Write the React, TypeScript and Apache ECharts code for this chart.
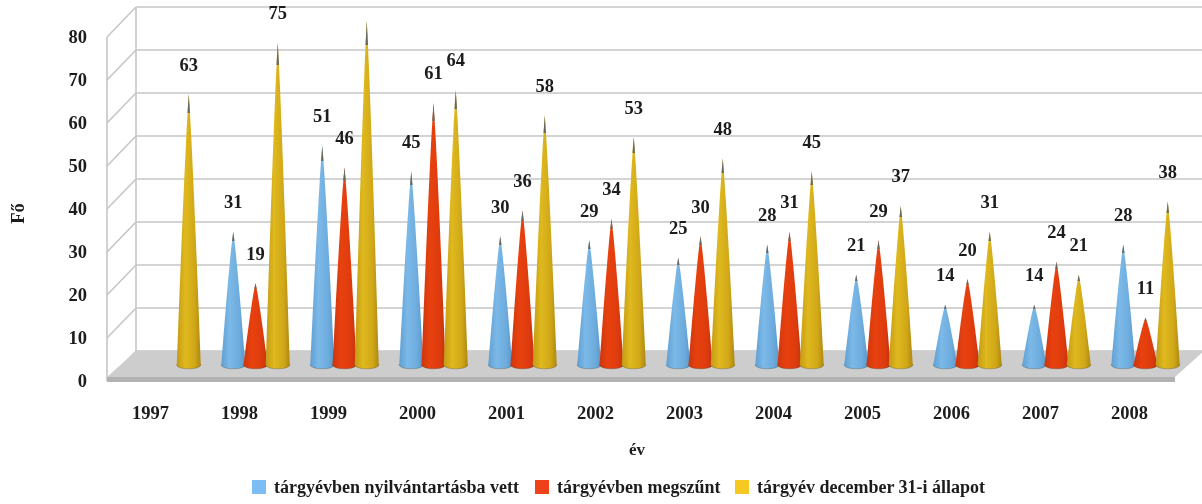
import React, { useEffect, useRef } from "react";
import * as echarts from "echarts";

const years = ["1997","1998","1999","2000","2001","2002","2003","2004","2005","2006","2007","2008"];
const newlyRegistered = [null,31,51,45,30,29,25,28,21,14,14,28];
const ceased = [null,19,46,61,36,34,30,31,29,20,24,11];
const yearEnd = [63,75,80,64,58,53,48,45,37,31,21,38];
const yTicks = [0,10,20,30,40,50,60,70,80];
const seriesNames = ["tárgyévben nyilvántartásba vett","tárgyévben megszűnt","tárgyév december 31-i állapot"];

const FONT = '"Liberation Serif", serif';
const DEPTH_X = 29, DEPTH_Y = 30, MID_Y = 16, MID_X = 15;
const GRID = "#c6c6c6";

const palettes = [
  { legend: "#7cbdf4", stops: ["#5f9fd2","#7cb9e8","#6cabdd","#5a97c9"] },
  { legend: "#f0421a", stops: ["#cc360f","#e8410f","#de3c0e","#c4330c"] },
  { legend: "#f5c922", stops: ["#c49a14","#dfb91e","#d0a718","#ae8810"] },
];

function frame(params: any, api: any) {
  const [x0, y0] = api.coord([0, 0]);
  const band = api.size([1, 0])[0];
  const left = x0 - band / 2;
  const right = left + band * years.length;
  const children: any[] = [];
  const line = (a: number, b: number, c: number, d: number) => ({
    type: "line", shape: { x1: a, y1: b, x2: c, y2: d }, style: { stroke: GRID, lineWidth: 1.6, fill: "none" },
  });
  const top = api.coord([0, yTicks[yTicks.length - 1]])[1];
  children.push(line(left, top, left, y0));
  children.push(line(left + DEPTH_X, top - DEPTH_Y, left + DEPTH_X, y0 - DEPTH_Y));
  for (const t of yTicks) {
    const y = api.coord([0, t])[1];
    children.push(line(left, y, left + DEPTH_X, y - DEPTH_Y));
    children.push(line(left + DEPTH_X, y - DEPTH_Y, right + DEPTH_X, y - DEPTH_Y));
  }
  children.push({
    type: "polygon",
    shape: { points: [[left, y0 - 4], [left + DEPTH_X, y0 - DEPTH_Y], [right + DEPTH_X, y0 - DEPTH_Y], [right, y0 - 4]] },
    style: { fill: "#cdcdcd" },
  });
  children.push({
    type: "polygon",
    shape: { points: [[left, y0 - 4], [right, y0 - 4], [right, y0 + 1], [left, y0 + 1]] },
    style: { fill: "#b2b2b2" },
  });
  return { type: "group", children };
}

function cone(idx: number) {
  const pal = palettes[idx];
  const gradient = new echarts.graphic.LinearGradient(0, 0, 1, 0, [
    { offset: 0, color: pal.stops[0] },
    { offset: 0.35, color: pal.stops[1] },
    { offset: 0.75, color: pal.stops[2] },
    { offset: 1, color: pal.stops[3] },
  ]);
  return (params: any, api: any) => {
    const i = api.value(0), v = api.value(1);
    const band = api.size([1, 0])[0];
    const [fx, fy] = api.coord([i, v]);
    const base = api.coord([i, 0]);
    const cx = fx + MID_X + (idx - 1) * band * 0.25;
    const tipY = fy - MID_Y;
    const baseY = base[1] - MID_Y;
    const hw = 12;
    const h = baseY - tipY;
    const prof = (t: number) => hw * Math.pow(t, 0.85);
    const right: number[][] = [], leftSide: number[][] = [];
    for (let k = 1; k <= 8; k++) {
      const t = k / 8;
      right.push([cx + prof(t), tipY + h * t]);
      leftSide.unshift([cx - prof(t), tipY + h * t]);
    }
    const dark = h * 0.07;
    const dw = prof(0.07);
    return {
      type: "group",
      children: [
        { type: "ellipse", shape: { cx, cy: baseY, rx: hw, ry: 3.8 }, style: { fill: gradient, stroke: "rgba(70,70,50,0.45)", lineWidth: 0.7 } },
        { type: "polygon", shape: { points: [[cx, tipY], ...right, ...leftSide] }, style: { fill: gradient } },
        { type: "polygon", shape: { points: [[cx, tipY], [cx + dw, tipY + dark], [cx - dw, tipY + dark]] }, style: { fill: "#6a6a5e" } },
        { type: "text", style: { text: String(v), x: cx, y: tipY - 29.5, align: "center", verticalAlign: "middle", fontFamily: FONT, fontSize: 18.5, fontWeight: "bold", fill: "#1c1c1c" } },
      ],
    };
  };
}

const toData = (arr: (number | null)[]) => arr.map((v, i) => [i, v]).filter((d) => d[1] !== null);

export default function App() {
  const ref = useRef<HTMLDivElement>(null);
  useEffect(() => {
    document.body.style.margin = "0";
    const chart = echarts.init(ref.current!, null, { renderer: "svg" });
    const axisText = { fontFamily: FONT, fontSize: 18.5, fontWeight: "bold" as const, color: "#1c1c1c" };
    const legendLefts = [252, 535, 735];
    chart.setOption({
      animation: false,
      backgroundColor: "#ffffff",
      grid: { left: 106, top: 37, width: 1069, height: 344, containLabel: false },
      xAxis: {
        type: "category", data: years, name: "év", nameLocation: "middle", nameGap: 60,
        nameTextStyle: { ...axisText, fontSize: 17, padding: [0, 8, 0, 0] },
        axisLine: { show: false }, axisTick: { show: false }, splitLine: { show: false },
        axisLabel: { ...axisText, margin: 22, interval: 0, padding: [0, 2, 0, 0] },
      },
      yAxis: {
        type: "value", min: 0, max: 80, interval: 10, name: "Fő", nameLocation: "middle", nameRotate: 90, nameGap: 80,
        nameTextStyle: { ...axisText, padding: [0, 0, 0, -9] },
        axisLine: { show: false }, axisTick: { show: false }, splitLine: { show: false },
        axisLabel: { ...axisText, margin: 20 },
      },
      legend: seriesNames.map((n, i) => ({
        data: [{ name: n, icon: "rect", itemStyle: { color: palettes[i].legend } }],
        left: legendLefts[i], top: 478, itemWidth: 14, itemHeight: 14, itemGap: 0, padding: 0,
        selectedMode: false,
        textStyle: { fontFamily: FONT, fontSize: 18, fontWeight: "bold", color: "#1c1c1c", padding: [8, 0, 0, 3] },
      })),
      series: [
        { type: "custom", name: "frame", silent: true, data: [[0, 0]], encode: { x: 0, y: 1 }, renderItem: frame, z: 1 },
        ...seriesNames.map((n, i) => ({
          type: "custom", name: n, data: toData([newlyRegistered, ceased, yearEnd][i]),
          encode: { x: 0, y: 1 }, renderItem: cone(i), itemStyle: { color: palettes[i].legend }, z: 2 + i, clip: false,
        })),
      ],
    });
    return () => chart.dispose();
  }, []);
  return <div ref={ref} style={{ width: 1202, height: 504, filter: "blur(0.45px)" }} />;
}
